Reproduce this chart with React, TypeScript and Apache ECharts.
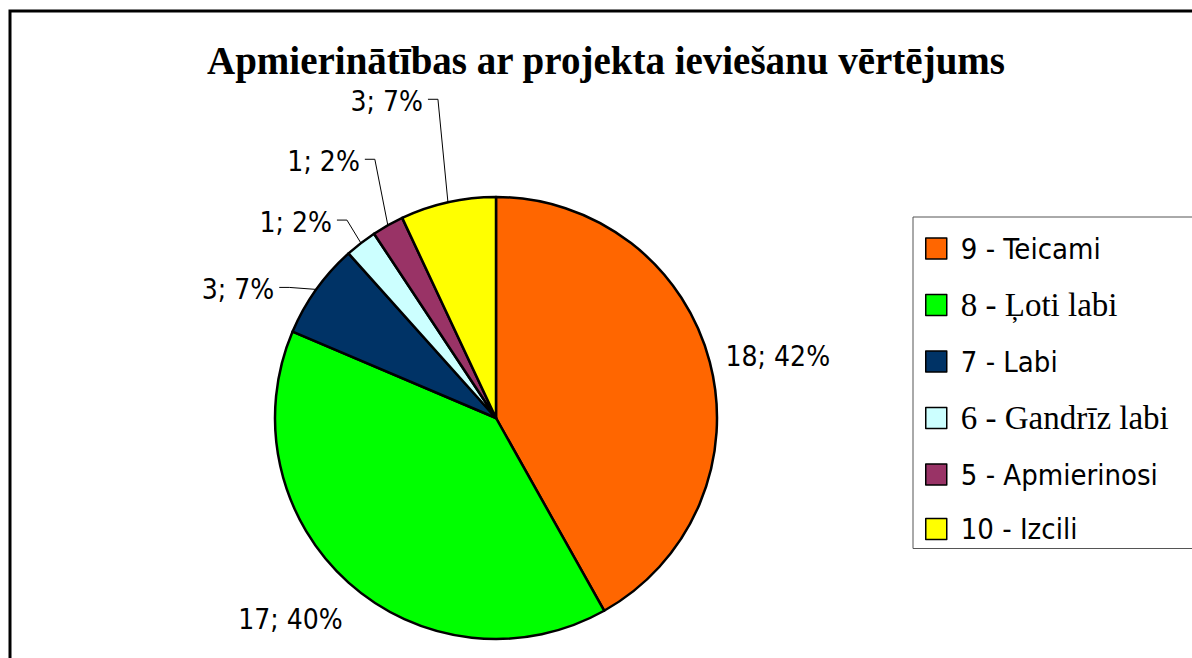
import React, { useEffect, useRef } from 'react';
import * as echarts from 'echarts';

// ---- data ----
const chartTitle = 'Apmierinātības ar projekta ieviešanu vērtējums';
const categories = ['9 - Teicami', '8 - Ļoti labi', '7 - Labi', '6 - Gandrīz labi', '5 - Apmierinosi', '10 - Izcili'];
const counts = [18, 17, 3, 1, 1, 3];
const sliceColors = ['#FF6600', '#00FF00', '#003366', '#CCFFFF', '#993366', '#FFFF00'];
const serifLegendNames = ['8 - Ļoti labi', '6 - Gandrīz labi'];

const SANS = "'DejaVu Sans Condensed', 'Liberation Sans Narrow', 'Liberation Sans', sans-serif";
const SERIF = "'Liberation Serif', 'DejaVu Serif', serif";

export default function App() {
  const ref = useRef<HTMLDivElement>(null);

  useEffect(() => {
    if (!ref.current) return;
    const chart = echarts.init(ref.current, null, { renderer: 'svg' });

    const CX = 496;
    const CY = 418;
    const R = 221;
    const total = counts.reduce((a, b) => a + b, 0);
    // label offsets relative to the slice's outer mid point: [dx, dy, align]
    const labelOffsets: [number, number, string][] = [
      [68, -6, 'center'],
      [-58, 37, 'center'],
      [-42, 0, 'right'],
      [-29, -21, 'right'],
      [-28, -64, 'right'],
      [-25, -101, 'right'],
    ];

    const option: any = {
      animation: false,
      backgroundColor: '#ffffff',
      graphic: [
        {
          type: 'rect',
          shape: { x: 10, y: 11, width: 1250, height: 720 },
          style: { fill: 'none', stroke: '#000', lineWidth: 3 },
          silent: true,
        },
        {
          type: 'text',
          x: 606,
          y: 60,
          style: {
            text: chartTitle,
            font: `bold 39px ${SERIF}`,
            fill: '#000',
            align: 'center',
            verticalAlign: 'middle',
          },
        },
      ],
      legend: {
        orient: 'vertical',
        left: 913,
        top: 217,
        padding: [17, 30, 5, 12],
        itemGap: 25.5,
        itemWidth: 21,
        itemHeight: 21,
        icon: 'rect',
        borderColor: '#555',
        borderWidth: 1,
        itemStyle: { borderColor: '#000', borderWidth: 1.5 },
        data: categories,
        formatter: (name: string) =>
          serifLegendNames.includes(name) ? `{serif|${name}}` : `{sans|${name}}`,
        textStyle: {
          color: '#000',
          rich: {
            sans: { fontFamily: SANS, fontSize: 29, lineHeight: 36, padding: [0, 0, 0, 9], color: '#000' },
            serif: { fontFamily: SERIF, fontSize: 33, lineHeight: 36, padding: [0, 0, 0, 9], color: '#000' },
          },
        },
      },
      series: [
        {
          type: 'pie',
          center: [CX, CY],
          radius: R,
          startAngle: 90,
          clockwise: true,
          avoidLabelOverlap: false,
          percentPrecision: 0,
          itemStyle: { borderColor: '#000', borderWidth: 2.5 },
          emphasis: { disabled: true },
          label: {
            show: true,
            position: 'outside',
            formatter: '{c}; {d}%',
            fontFamily: SANS,
            fontSize: 28,
            color: '#000',
          },
          labelLine: {
            show: true,
            length: 10,
            length2: 10,
            lineStyle: { color: '#000', width: 1 },
          },
          labelLayout: (p: any) => {
            const i = p.dataIndex;
            let before = 0;
            for (let k = 0; k < i; k++) before += counts[k];
            const mid = ((before + counts[i] / 2) / total) * Math.PI * 2;
            const ax = CX + R * Math.sin(mid);
            const ay = CY - R * Math.cos(mid);
            const [dx, dy, align] = labelOffsets[i];
            const lx = ax + dx;
            const ly = ay + dy;
            if (align === 'center') {
              return { x: lx, y: ly, align: 'center', verticalAlign: 'middle' };
            }
            return {
              x: lx,
              y: ly,
              align: 'right',
              verticalAlign: 'middle',
              labelLinePoints: [
                [ax, ay],
                [lx + 15, ly - 2],
                [lx + 5, ly - 2],
              ],
            };
          },
          data: categories.map((name, i) => ({
            name,
            value: counts[i],
            itemStyle: { color: sliceColors[i] },
            labelLine: { show: i >= 2 },
          })),
        },
      ],
    };

    chart.setOption(option);
    return () => chart.dispose();
  }, []);

  return (
    <div
      ref={ref}
      style={{ position: 'fixed', left: 0, top: 0, width: 1192, height: 658, background: '#fff' }}
    />
  );
}
